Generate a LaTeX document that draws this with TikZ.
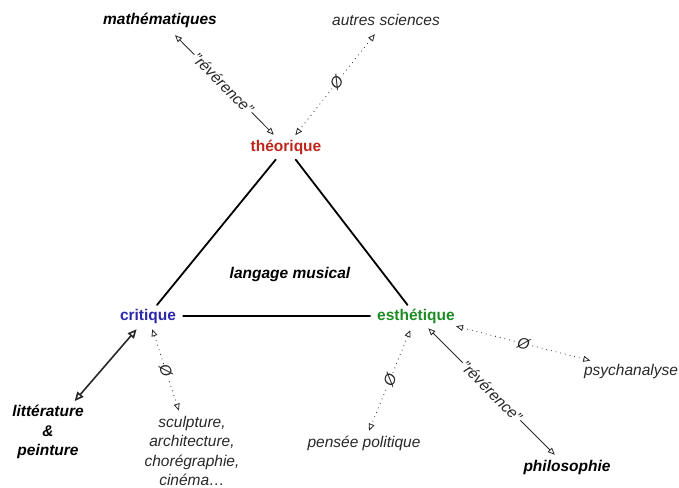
\documentclass[tikz,border=0pt]{standalone}
\usepackage{fontspec}
\setmainfont{Liberation Sans}
\usepackage{xcolor}
\usetikzlibrary{arrows.meta}
\definecolor{theored}{RGB}{190,38,28}
\definecolor{critblue}{RGB}{44,40,170}
\definecolor{esthgreen}{RGB}{30,140,36}
\definecolor{inkgray}{RGB}{40,40,40}

\newcommand{\taille}{\fontsize{15.5}{19.2}\selectfont}

\tikzset{
  pole/.style={font=\taille\bfseries, inner sep=2pt},
  domaine/.style={font=\taille\itshape, text=inkgray, align=center, inner sep=2pt},
  domainefort/.style={font=\taille\bfseries\itshape, align=center, inner sep=2pt},
  cote/.style={line width=1.8pt, line cap=round},
  rapport/.style={line width=0.8pt, inkgray, >={Triangle[open,length=7pt,width=6pt]}, <->},
  vide/.style={rapport, dash pattern=on 0.8pt off 4pt},
  etiquette/.style={fill=white, sloped, inner sep=1pt, font=\taille\itshape, text=inkgray}
}

\begin{document}
\begin{tikzpicture}[x=1pt,y=-1pt]
  \useasboundingbox (0,0) rectangle (679,487);
  % the three poles
  \node[pole, text=theored] (theo) at (286,147) {théorique};
  \node[pole, text=critblue] (crit) at (148,316) {critique};
  \node[pole, text=esthgreen] (esth) at (416,316) {esthétique};
  \node[domainefort] (langage) at (290,274) {langage musical};
  % neighbouring fields
  \node[domainefort] (math) at (160,20) {mathématiques};
  \node[domaine] (sciences) at (386,20) {autres sciences};
  \node[domainefort] (litt) at (48,432) {littérature\\\&\\peinture};
  \node[domaine, inner sep=0pt] (arts) at (192,451) {sculpture,\\architecture,\\chorégraphie,\\cinéma…};
  \node[domaine] (politique) at (364,443) {pensée politique};
  \node[domainefort] (philo) at (567,467) {philosophie};
  \node[domaine] (psy) at (631,371) {psychanalyse};
  % triangle
  \draw[cote, shorten <=4pt, shorten >=2pt] (theo) -- (crit);
  \draw[cote, shorten <=4pt, shorten >=2pt] (theo) -- (esth);
  \draw[cote, shorten <=5pt, shorten >=5pt] (crit) -- (esth);
  % relations
  \draw[rapport, shorten <=8pt, shorten >=4pt] (math) -- node[etiquette] {"révérence"} (theo);
  \draw[vide, shorten <=8pt, shorten >=3pt] (sciences) -- node[etiquette] {Ø} (theo);
  \draw[rapport, line width=1.6pt, >={Triangle[open,length=9pt,width=8pt]}, shorten <=5pt, shorten >=3pt] (crit) -- (litt);
  \draw[vide, shorten <=4pt, shorten >=6pt] (crit) -- node[etiquette] {Ø} (arts);
  \draw[vide, shorten <=5pt, shorten >=3pt] (esth) -- node[etiquette] {Ø} (politique);
  \draw[rapport, shorten <=4pt, shorten >=4pt] (esth) -- node[etiquette] {"révérence"} (philo);
  \draw[vide, shorten <=3pt, shorten >=4pt] (esth) -- node[etiquette] {Ø} (psy);
\end{tikzpicture}
\end{document}
